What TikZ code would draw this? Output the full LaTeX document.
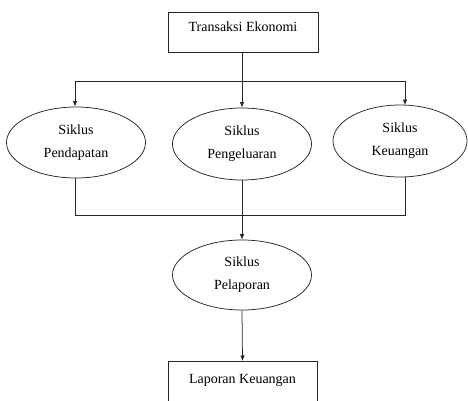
\documentclass[tikz,border=0pt]{standalone}
\usepackage{fontspec}
\setmainfont{Liberation Serif}
\usetikzlibrary{shapes.geometric,arrows.meta}
\begin{document}
\begin{tikzpicture}[x=1pt,y=-1pt,
  every node/.style={font=\fontsize{14}{23}\selectfont},
  conn/.style={draw=black!85, line width=0.75pt},
  arr/.style={conn, -{Latex[length=5.5pt,width=4.5pt]}},
  boxnode/.style={draw=black!85, line width=0.75pt, rectangle, inner sep=0pt, minimum width=150pt, anchor=north, text height=19.5pt},
  cyc/.style={draw=black!85, line width=0.75pt, ellipse, inner sep=0pt, align=center, minimum width=139pt, minimum height=71pt}]
\useasboundingbox (0,0) rectangle (468,401);
\clip (0,0) rectangle (468,401);
\node[boxnode, text depth=20.5pt] (top) at (243,12) {Transaksi Ekonomi};
\node[cyc] (left) at (76,142.5) {Siklus\\Pendapatan};
\node[cyc, minimum height=72pt] (mid) at (242,144) {Siklus\\Pengeluaran};
\node[cyc, minimum width=134pt, minimum height=72pt] (right) at (400,141) {Siklus\\Keuangan};
\node[cyc, minimum height=70pt] (rep) at (242,275) {Siklus\\Pelaporan};
\node[boxnode, minimum width=149pt, text depth=30pt, text height=22pt] (lap) at (242.5,361) {Laporan Keuangan};
\coordinate (jl) at (75,81);
\coordinate (jr) at (405,81);
\coordinate (bl) at (75,215);
\coordinate (br) at (405,215);
\draw[arr] (top.south -| mid.north) -- (mid.north);
\draw[conn] (jl) -- (jr);
\draw[arr] (jl) -- (jl |- left.north);
\draw[arr] (jr) -- ([yshift=-0.5pt]jr |- right.north);
\draw[conn] (bl |- left.south) -- (bl) -- (br) -- (br |- right.south);
\draw[arr] (mid.south) -- (rep.north);
\draw[arr] (rep.south) -- (lap.north);
\end{tikzpicture}
\end{document}
